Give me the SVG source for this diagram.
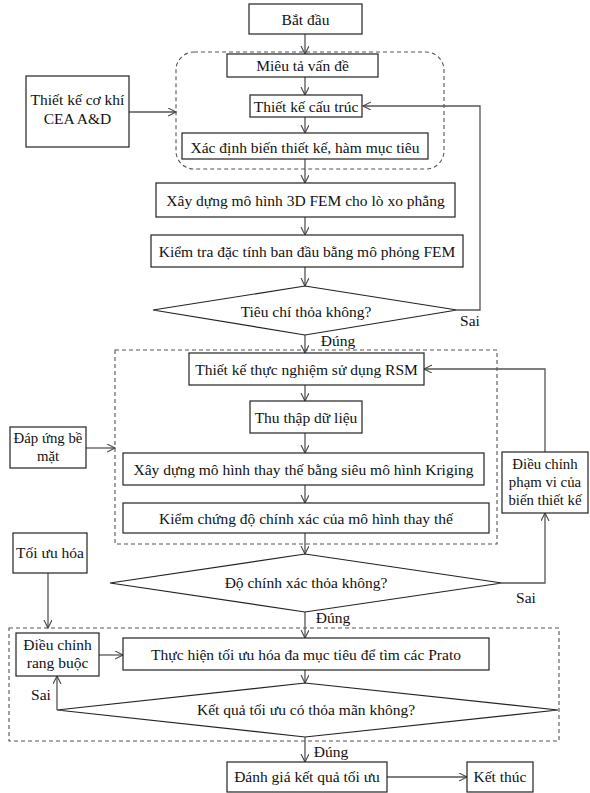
<svg xmlns="http://www.w3.org/2000/svg" width="590" height="793" viewBox="0 0 590 793">
<defs>
<marker id="ah" markerWidth="10" markerHeight="10" refX="8" refY="4" orient="auto" markerUnits="userSpaceOnUse">
<path d="M0,0 L8,4 L0,8" fill="none" stroke="#444" stroke-width="1.1"/>
</marker>
<style>
.b{fill:#fff;stroke:#222;stroke-width:1.2}
.d{fill:none;stroke:#555;stroke-width:1.1;stroke-dasharray:4 3}
.c{fill:none;stroke:#555;stroke-width:1.3;marker-end:url(#ah)}
text{font-family:"Liberation Serif","Times New Roman",serif;font-size:15.5px;fill:#111;text-anchor:middle}
.sm{font-size:14.8px}
</style>
</defs>
<rect width="590" height="793" fill="#fff"/>
<g id="groups">
<rect class="d" x="176" y="52" width="268" height="117" rx="18"/>
<rect class="d" x="115" y="350" width="382" height="194"/>
<rect class="d" x="9" y="628" width="550" height="113"/>
</g>
<g id="connectors">
<line class="c" x1="305" y1="34" x2="305" y2="54"/>
<line class="c" x1="305" y1="77" x2="305" y2="95"/>
<line class="c" x1="305" y1="117" x2="305" y2="133"/>
<line class="c" x1="305" y1="159" x2="305" y2="183"/>
<line class="c" x1="305" y1="217" x2="305" y2="235"/>
<line class="c" x1="305" y1="267" x2="305" y2="286"/>
<line class="c" x1="305" y1="335" x2="305" y2="353"/>
<line class="c" x1="305" y1="385" x2="305" y2="401"/>
<line class="c" x1="305" y1="433" x2="305" y2="453"/>
<line class="c" x1="305" y1="485" x2="305" y2="503"/>
<line class="c" x1="305" y1="533" x2="305" y2="554"/>
<line class="c" x1="305" y1="612" x2="305" y2="638"/>
<line class="c" x1="305" y1="670" x2="305" y2="683"/>
<line class="c" x1="305" y1="737" x2="305" y2="762"/>
<line class="c" x1="129" y1="112" x2="176" y2="112"/>
<polyline class="c" points="457,310 480,310 480,106 363,106"/>
<line class="c" x1="86" y1="448" x2="115" y2="448"/>
<polyline class="c" points="502,583 545,583 545,513"/>
<polyline class="c" points="545,452 545,369 424,369"/>
<line class="c" x1="48" y1="573" x2="48" y2="628"/>
<line class="c" x1="99" y1="655" x2="123" y2="655"/>
<line class="c" x1="57" y1="710" x2="57" y2="676"/>
<line class="c" x1="387" y1="777" x2="467" y2="777"/>
<text x="470" y="326">Sai</text>
<text x="338" y="346">Đúng</text>
<text x="526" y="603">Sai</text>
<text x="333" y="623">Đúng</text>
<text x="41" y="700">Sai</text>
<text x="331" y="757">Đúng</text>
</g>
<g id="n-start"><rect class="b" x="249" y="4" width="113" height="30"/><text x="305.5" y="24.5">Bắt đầu</text></g>
<g id="n-mieuta"><rect class="b" x="227" y="54" width="151" height="23"/><text x="302.5" y="70.5">Miêu tả vấn đề</text></g>
<g id="n-thietke"><rect class="b" x="250" y="95" width="112" height="22"/><text x="306" y="111.5">Thiết kế cấu trúc</text></g>
<g id="n-xacdinh"><rect class="b" x="182" y="133" width="246" height="26"/><text x="305" y="152.5">Xác định biến thiết kế, hàm mục tiêu</text></g>
<g id="n-cokhi"><rect class="b" x="26" y="76" width="103" height="71"/><text x="77.5" y="104.5">Thiết kế cơ khí</text><text x="77.5" y="123.5">CEA A&amp;D</text></g>
<g id="n-3dfem"><rect class="b" x="156" y="183" width="299" height="34"/><text x="305.5" y="205.5">Xây dựng mô hình 3D FEM cho lò xo phẳng</text></g>
<g id="n-kiemtra"><rect class="b" x="151" y="235" width="312" height="32"/><text x="307" y="256.5">Kiểm tra đặc tính ban đầu bằng mô phỏng FEM</text></g>
<g id="n-tieuchi"><polygon class="b" points="305,286 457,310 305,335 153,310"/><text x="306" y="317">Tiêu chí thỏa không?</text></g>
<g id="n-rsm"><rect class="b" x="189" y="353" width="235" height="32"/><text x="306.5" y="374.5">Thiết kế thực nghiệm sử dụng RSM</text></g>
<g id="n-thuthap"><rect class="b" x="250" y="401" width="112" height="32"/><text x="306" y="422.5">Thu thập dữ liệu</text></g>
<g id="n-kriging"><rect class="b" x="123" y="453" width="361" height="32"/><text x="303.5" y="474.5">Xây dựng mô hình thay thế bằng siêu mô hình Kriging</text></g>
<g id="n-kiemchung"><rect class="b" x="123" y="503" width="366" height="30"/><text x="306" y="523.5">Kiểm chứng độ chính xác của mô hình thay thế</text></g>
<g id="n-dapung"><rect class="b" x="10" y="427" width="76" height="41"/><text class="sm" x="48" y="443">Đáp ứng bề</text><text class="sm" x="48" y="461">mặt</text></g>
<g id="n-dieuchinh-pv"><rect class="b" x="502" y="452" width="86" height="61"/><text class="sm" x="545" y="469">Điều chỉnh</text><text class="sm" x="545" y="487">phạm vi của</text><text class="sm" x="545" y="505">biến thiết kế</text></g>
<g id="n-dochinhxac"><polygon class="b" points="305,554 502,583 305,612 110,583"/><text x="306" y="588">Độ chính xác thỏa không?</text></g>
<g id="n-toiuuhoa"><rect class="b" x="13" y="533" width="74" height="40"/><text x="50" y="558">Tối ưu hóa</text></g>
<g id="n-rangbuoc"><rect class="b" x="16" y="633" width="83" height="43"/><text x="57.5" y="650">Điều chỉnh</text><text x="57.5" y="668">rang buộc</text></g>
<g id="n-thuchien"><rect class="b" x="123" y="638" width="366" height="32"/><text x="306" y="659.5">Thực hiện tối ưu hóa đa mục tiêu để tìm các Prato</text></g>
<g id="n-ketqua"><polygon class="b" points="305,683 558,710 305,737 57,710"/><text x="306" y="715">Kết quả tối ưu có thỏa mãn không?</text></g>
<g id="n-danhgia"><rect class="b" x="227" y="762" width="160" height="30"/><text x="307" y="782">Đánh giá kết quả tối ưu</text></g>
<g id="n-ketthuc"><rect class="b" x="467" y="762" width="66" height="30"/><text x="500" y="782">Kết thúc</text></g>
</svg>
